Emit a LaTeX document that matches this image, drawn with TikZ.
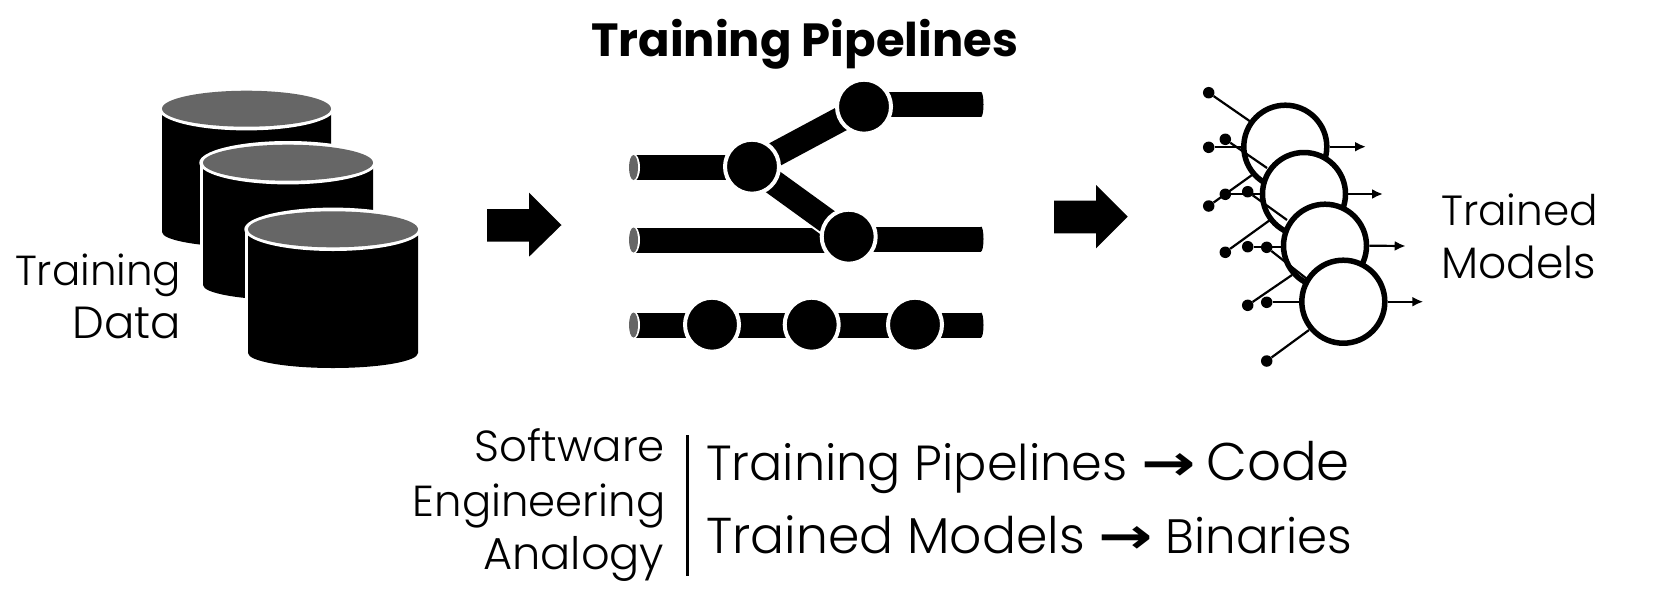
\documentclass[tikz,border=0pt]{standalone}
\usepackage{fontspec}
\usepackage{graphicx}
\setmainfont{Poppins Light}
\newfontfamily\boldf{Poppins Bold}
\newfontfamily\symf{DejaVu Sans Bold}
\usetikzlibrary{arrows.meta,calc}
\definecolor{capgray}{HTML}{666666}
\newcommand{\sz}[1]{\fontsize{#1}{#1}\selectfont}
\newcommand{\arr}{\scalebox{1.3}[1]{\symf\sz{50}→}}
\tikzset{
  x=1pt,y=-1pt,
  lab/.style={inner sep=0pt,font=\sz{43}},
  labr/.style={lab,anchor=base east},
  labl/.style={lab,anchor=base west},
  big/.style={inner sep=0pt,anchor=base west,font=\sz{50}},
  pipebar/.style={line width=25pt,black},
  hub/.style={circle,fill=black,draw=white,line width=4pt,minimum size=54pt,inner sep=0pt},
  neuron/.style={circle,fill=white,draw=black,line width=5.5pt,minimum size=83pt,inner sep=0pt},
  dotn/.style={circle,fill=black,minimum size=11.5pt,inner sep=0pt},
  syn/.style={line width=2.2pt,black},
  outp/.style={line width=2.2pt,black,-{Latex[length=11pt,width=10pt]}},
}
\newcommand{\cyl}[5]{% left right centre-y ry bottom-side
  \fill[white] (#1-3.5,#3) rectangle (#1,#5+16);
  \fill[black] (#1,#3) -- (#2,#3) -- (#2,#5) arc[start angle=0,end angle=180,x radius={(#2-#1)/2},y radius=15] -- cycle;
  \fill[white] ({(#1+#2)/2},#3) ellipse[x radius={(#2-#1)/2+3.7},y radius=#4+3.7];
  \fill[capgray] ({(#1+#2)/2},#3) ellipse[x radius={(#2-#1)/2},y radius=#4];
}
\begin{document}
\begin{tikzpicture}
\useasboundingbox (0,0) rectangle (1653,590);
% title
\node[inner sep=0pt,anchor=base west,font=\boldf\sz{46.5}] (title) at (591,56) {Training Pipelines};
% cylinders
\cyl{162}{331}{108.7}{18}{232}
\cyl{203}{373}{162.7}{18}{285}
\cyl{248}{418}{229.3}{18}{353}
\node[labr,font=\sz{42}] (td1) at (181.5,285) {Training};
\node[labr,font=\sz{45}] (td2) at (181,338) {Data};
% block arrows
\fill (487,209) -- (529,209) -- (529,192.7) -- (561.5,225) -- (529,256.7) -- (529,241.7) -- (487,241.7) -- cycle;
\fill (1054,200.7) -- (1096,200.7) -- (1096,185) -- (1127.7,216.7) -- (1096,248.3) -- (1096,233.3) -- (1054,233.3) -- cycle;
% pipelines
\node[hub] (c1) at (752,166.7) {};
\node[hub] (c2) at (864,106.7) {};
\node[hub] (c3) at (848.7,236.7) {};
\node[hub] (d1) at (712,324.7) {};
\node[hub] (d2) at (811.7,324.7) {};
\node[hub] (d3) at (915,324.7) {};
\coordinate (s1) at (636,167.5);
\coordinate (s2) at (636,240);
\coordinate (s3) at (636,325);
\coordinate (e1) at (981,104.5);
\coordinate (e2) at (981,239);
\coordinate (e3) at (981,325);
\fill[black] (e1) ellipse[x radius=2.5,y radius=12.5];
\fill[black] (e2) ellipse[x radius=2.5,y radius=12.5];
\fill[black] (e3) ellipse[x radius=2.5,y radius=12.5];
\draw[pipebar] (s1) -- (c1.center |- s1);
\draw[pipebar] (s2) -- (c3.center |- s2);
\draw[pipebar] (s3) -- (e3);
\draw[pipebar] (c2.center |- e1) -- (e1);
\draw[pipebar] (c3.center |- e2) -- (e2);
\draw[pipebar] (c1.center) -- (c2.center);
\draw[line width=29pt,white] (c1.center) -- (c3.center);
\draw[pipebar] (c1.center) -- (c3.center);
\foreach \n in {c1,c2,c3,d1,d2,d3} \node[hub] at (\n.center) {};
\foreach \s in {s1,s2,s3}{
  \fill[white] ($(\s)+(-2.5,0)$) ellipse[x radius=6.5,y radius=14];
  \fill[capgray] ($(\s)+(-2.5,0)$) ellipse[x radius=4.5,y radius=12.5];
}
% neurons
\node[dotn] (a1) at (1208.7,92.7) {};
\node[dotn] (a2) at (1208.7,147.3) {};
\node[dotn] (a3) at (1225.3,139.3) {};
\node[dotn] (a4) at (1208.7,206) {};
\node[neuron] (A) at (1285.3,146.7) {};
\coordinate (a3e) at (1267,168);
\coordinate (a4e) at (1252,175);
\draw[syn] (a1) -- (1251,122);
\draw[syn] (a2) -- (1243,147.3);
\draw[syn] (a3) -- (a3e);
\draw[syn] (a4) -- (a4e);
\coordinate (ao) at (1366,146.7);
\draw[outp] (A.east) -- (ao);
\node[dotn] (b1) at (1225.3,194.3) {};
\node[dotn] (b2) at (1247.7,191.7) {};
\node[dotn] (b3) at (1225.3,252.3) {};
\node[neuron] (B) at (1304,194) {};
\coordinate (b2e) at (1287,220);
\coordinate (b3e) at (1270,220);
\draw[syn] (b1) -- (1262,194.3);
\draw[syn] (b2) -- (b2e);
\draw[syn] (b3) -- (b3e);
\coordinate (bo) at (1383,194);
\draw[outp] (B.east) -- (bo);
\node[dotn] (c1d) at (1247.7,246.7) {};
\node[dotn] (c2d) at (1266.7,247.3) {};
\node[dotn] (c3d) at (1247.7,305.3) {};
\node[neuron] (C) at (1325,245.7) {};
\coordinate (c2e) at (1307,279);
\coordinate (c3e) at (1292,275);
\draw[syn] (c1d) -- (1283,246.7);
\draw[syn] (c2d) -- (c2e);
\draw[syn] (c3d) -- (c3e);
\coordinate (co) at (1405.7,246);
\draw[outp] (C.east) -- (co);
\node[dotn] (d1d) at (1266.7,302.3) {};
\node[dotn] (d2d) at (1266.7,361) {};
\node[neuron] (D) at (1343.3,301.7) {};
\draw[syn] (d1d) -- (1302,302.3);
\draw[syn] (d2d) -- (1309,330);
\coordinate (do) at (1423.3,301.7);
\draw[outp] (D.east) -- (do);
\node[labl,font=\sz{42.2}] (tm1) at (1441,225) {Trained};
\node[labl,font=\sz{44}] (tm2) at (1441,278) {Models};
% analogy
\node[labr,font=\sz{43.5}] (se1) at (665,461.7) {Software};
\node[labr,font=\sz{43.4}] (se2) at (665.5,516.7) {Engineering};
\node[labr,font=\sz{44.7}] (se3) at (664.5,569.3) {Analogy};
\coordinate (v1) at (687.5,435);
\coordinate (v2) at (687.5,576);
\draw[line width=2.2pt] (v1) -- (v2);
\node[big] (l1) at (706,480) {{\sz{49.3}Training Pipelines} \arr{} \hspace{-3pt}{\sz{53}Code}};
\node[big] (l2) at (706,553) {{\sz{50.4}Trained Models} \arr{} \hspace{-1pt}{\sz{48.3}Binaries}};
\end{tikzpicture}
\end{document}
